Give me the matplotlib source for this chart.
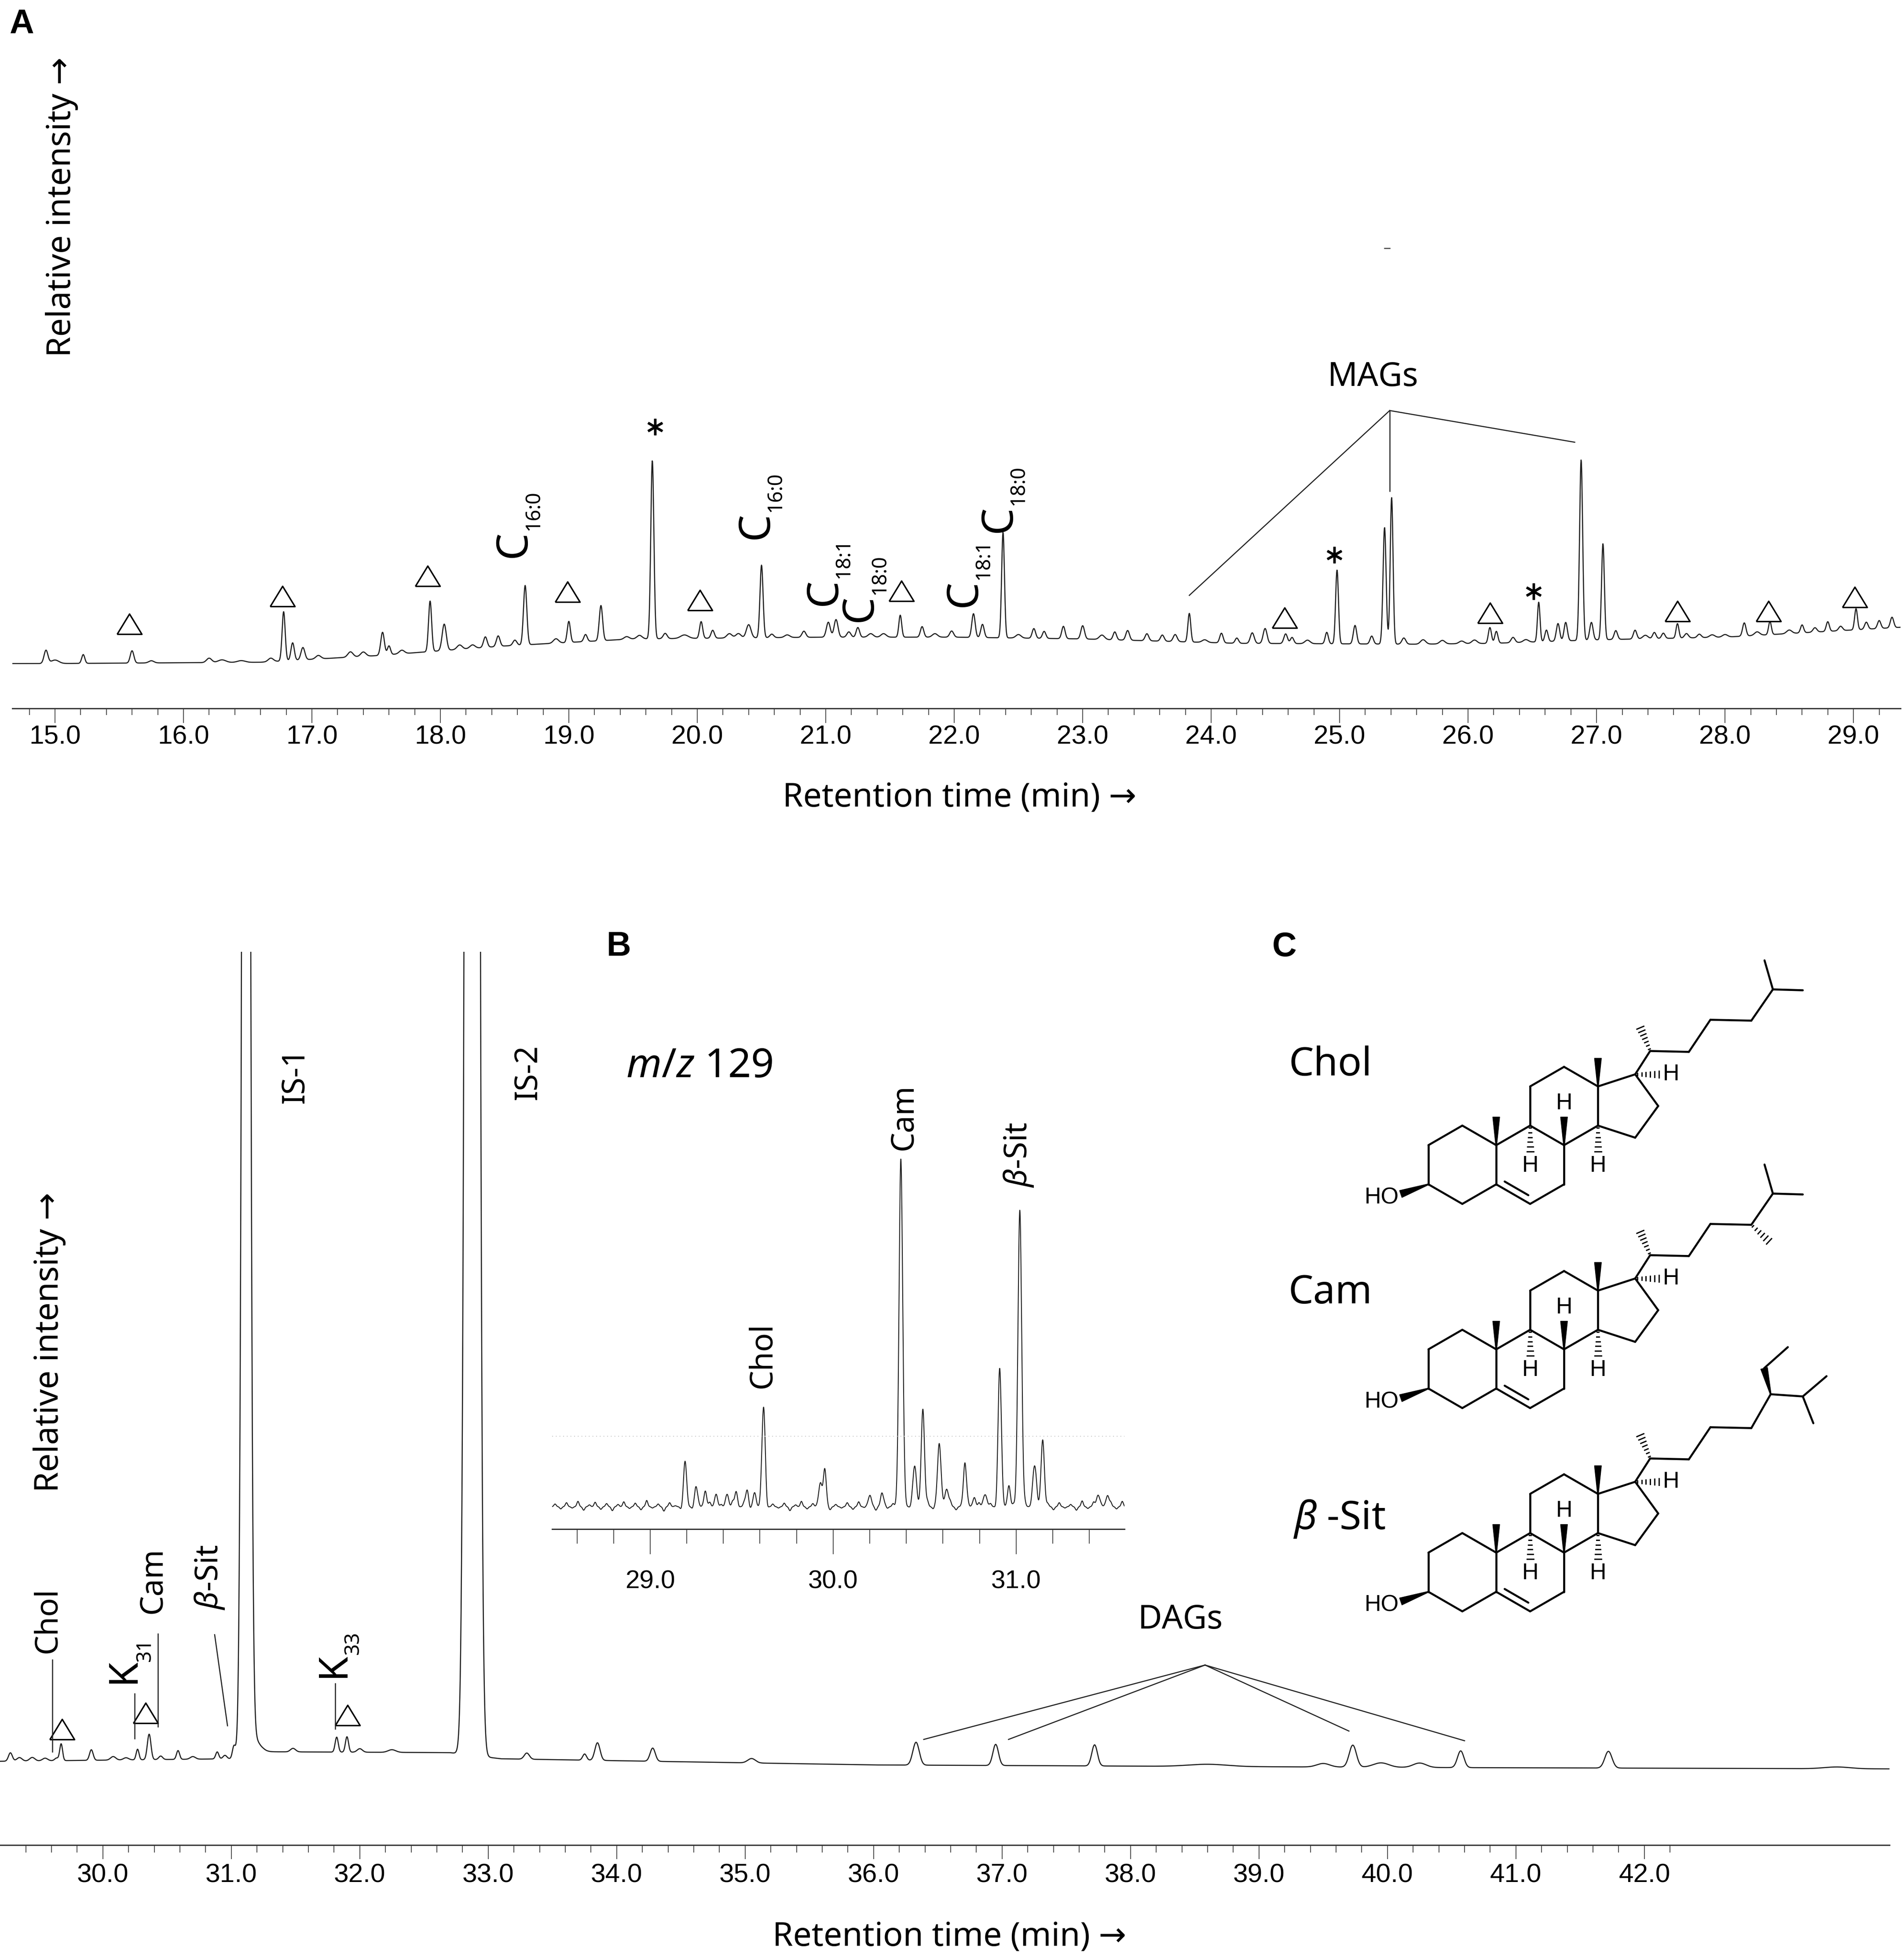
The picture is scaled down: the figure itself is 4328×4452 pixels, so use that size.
import numpy as np
import matplotlib
matplotlib.use('Agg')
import matplotlib.pyplot as plt
from matplotlib.patches import Polygon
from matplotlib.ticker import FixedLocator, FormatStrFormatter

# ---------------- DATA ----------------
# Panel A: total ion chromatogram 14.7-29.4 min (peak rt [min], height, sigma [min])
A_rt = [14.93, 15.0, 15.22, 15.6, 15.75, 16.2, 16.3, 16.45, 16.68, 16.78, 16.85, 16.93, 17.05, 17.3, 17.4,
        17.55, 17.6, 17.7, 17.92, 18.03, 18.15, 18.25, 18.35, 18.45, 18.58, 18.66, 18.9, 19.0, 19.13, 19.25,
        19.45, 19.55, 19.65, 19.75, 19.9, 20.03, 20.12, 20.25, 20.32, 20.4, 20.5, 20.58, 20.7, 20.83, 21.02,
        21.08, 21.18, 21.25, 21.35, 21.45, 21.58, 21.75, 21.85, 21.98, 22.15, 22.22, 22.38, 22.5, 22.62, 22.7,
        22.85, 23.0, 23.15, 23.25, 23.35, 23.5, 23.62, 23.72, 23.83, 23.95, 24.08, 24.2, 24.32, 24.42, 24.58,
        24.63, 24.75, 24.9, 24.98, 25.12, 25.25, 25.35, 25.405, 25.5, 25.65, 25.8, 25.95, 26.05, 26.17, 26.22,
        26.35, 26.45, 26.55, 26.61, 26.7, 26.76, 26.88, 26.96, 27.05, 27.15, 27.3, 27.38, 27.45, 27.52, 27.63,
        27.7, 27.8, 27.9, 28.0, 28.15, 28.25, 28.35, 28.5, 28.6, 28.7, 28.8, 28.9, 29.02, 29.1, 29.2, 29.3]
A_h = [30, 8, 20, 28, 5, 10, 6, 4, 8, 112, 40, 28, 8, 12, 10,
       52, 20, 8, 115, 60, 10, 8, 24, 24, 12, 135, 10, 48, 16, 80,
       6, 8, 405, 12, 8, 38, 18, 10, 10, 30, 165, 8, 6, 14, 34,
       40, 12, 22, 8, 8, 50, 24, 8, 14, 54, 30, 240, 8, 22, 16,
       28, 30, 10, 18, 22, 16, 14, 16, 65, 6, 22, 12, 24, 34, 22,
       14, 8, 26, 168, 42, 18, 265, 333, 14, 10, 8, 6, 8, 36, 27,
       12, 6, 90, 26, 40, 42, 410, 40, 218, 20, 20, 8, 14, 12, 33,
       10, 8, 6, 6, 30, 8, 30, 8, 18, 10, 22, 10, 48, 16, 18, 24]
A_s = [0.015, 0.03, 0.012, 0.014, 0.02, 0.02, 0.03, 0.03, 0.02, 0.012, 0.013, 0.015, 0.02, 0.02, 0.02,
       0.014, 0.012, 0.02, 0.012, 0.016, 0.02, 0.02, 0.014, 0.014, 0.015, 0.013, 0.02, 0.012, 0.013, 0.013,
       0.02, 0.02, 0.012, 0.015, 0.03, 0.012, 0.013, 0.02, 0.02, 0.018, 0.012, 0.015, 0.02, 0.015, 0.015,
       0.015, 0.015, 0.013, 0.02, 0.02, 0.011, 0.013, 0.02, 0.015, 0.013, 0.013, 0.011, 0.02, 0.013, 0.013,
       0.013, 0.014, 0.02, 0.013, 0.014, 0.014, 0.014, 0.015, 0.011, 0.02, 0.013, 0.013, 0.015, 0.015, 0.014,
       0.013, 0.02, 0.012, 0.011, 0.013, 0.013, 0.012, 0.011, 0.015, 0.02, 0.02, 0.02, 0.02, 0.012, 0.012,
       0.015, 0.02, 0.010, 0.012, 0.013, 0.013, 0.012, 0.013, 0.011, 0.013, 0.013, 0.02, 0.013, 0.013, 0.011,
       0.015, 0.015, 0.02, 0.02, 0.013, 0.02, 0.011, 0.02, 0.012, 0.015, 0.012, 0.015, 0.011, 0.013, 0.013, 0.013]
A_base_rt = [14.6, 15.0, 16.6, 17.5, 18.5, 19.5, 21.0, 22.0, 23.0, 24.2, 25.6, 26.2, 27.0, 28.0, 29.4]
A_base_y = [102, 102, 105, 120, 142, 158, 162, 162, 158, 148, 146, 148, 156, 162, 185]

# Lower chromatogram 29.2-43.9 min
D_rt = [29.28, 29.35, 29.45, 29.55, 29.64, 29.675, 29.91, 30.08, 30.18, 30.27, 30.36, 30.45, 30.585, 30.7,
        30.89, 30.95, 31.02, 31.115, 31.16, 31.48, 31.82, 31.90, 32.0, 32.25, 32.875, 33.3, 33.75, 33.85,
        34.28, 35.05, 36.33, 36.95, 37.72, 38.6, 39.5, 39.73, 39.95, 40.25, 40.57, 41.72, 43.5]
D_h = [19, 8, 8, 6, 6, 38, 24, 8, 5, 24, 58, 8, 20, 6,
       16, 8, 27, 6000, 40, 8, 34, 35, 8, 6, 16000, 14, 14, 40,
       30, 10, 52, 48, 48, 5, 8, 50, 10, 10, 38, 38, 4]
D_s = [0.015, 0.02, 0.02, 0.02, 0.015, 0.011, 0.014, 0.02, 0.02, 0.011, 0.014, 0.015, 0.012, 0.02,
       0.012, 0.015, 0.012, 0.0234, 0.05, 0.02, 0.012, 0.012, 0.02, 0.03, 0.031, 0.02, 0.015, 0.02,
       0.02, 0.03, 0.025, 0.022, 0.022, 0.15, 0.05, 0.028, 0.06, 0.05, 0.025, 0.028, 0.1]
D_base_rt = [29.1, 31.0, 31.25, 32.7, 33.1, 36.0, 40.5, 44.0]
D_base_y = [190, 196, 212, 210, 196, 182, 176, 173]

# Panel B: m/z 129 mass chromatogram 28.5-31.6 min
B_rt = [29.19, 29.25, 29.30, 29.36, 29.42, 29.47, 29.53, 29.57, 29.62, 29.93, 29.955, 30.2, 30.27, 30.37,
        30.445, 30.49, 30.58, 30.62, 30.72, 30.77, 30.83, 30.91, 30.96, 31.02, 31.1, 31.145, 31.45, 31.5]
B_h = [100, 45, 40, 30, 35, 35, 38, 30, 225, 55, 75, 20, 20, 791,
       90, 227, 136, 40, 99, 25, 30, 313, 50, 682, 90, 156, 30, 25]
B_s = [0.008, 0.008, 0.008, 0.008, 0.008, 0.008, 0.008, 0.008, 0.009, 0.01, 0.008, 0.01, 0.01, 0.01,
       0.01, 0.009, 0.01, 0.01, 0.008, 0.008, 0.01, 0.009, 0.008, 0.01, 0.01, 0.009, 0.01, 0.008]
B_baseline = 51
B_noise = [6, -5, 9, -3, 12, -8, 4, 10, -6, 7, -9, 5, 11, -4, 8, -7, 14, -3, 6, -10, 9, 2, -6, 13, -5, 7, -8, 10, -2, 5,
           -7, 12, -4, 9, -6, 3, 11, -8, 6, -3, 8, -9, 4, 12, -5, 7, -4, 10, -7, 5,
           -3, 9, -6, 11, -2, 6, -8, 13, -4, 7, -6, 9, -3, 5, -9, 12, -5, 8, -2, 10,
           -7, 4, 11, -6, 9, -3, 7, -8, 12, -4, 6, -10, 8, -2, 11, -5, 7, -7, 9, -3,
           5, -8, 13, -4, 10, -6, 3, 9, -5, 12]

A_major = [15.0, 16.0, 17.0, 18.0, 19.0, 20.0, 21.0, 22.0, 23.0, 24.0, 25.0, 26.0, 27.0, 28.0, 29.0]
D_major = [30.0, 31.0, 32.0, 33.0, 34.0, 35.0, 36.0, 37.0, 38.0, 39.0, 40.0, 41.0, 42.0]
B_major = [29.0, 30.0, 31.0]

# annotations (panel A)
A_tri_rt = [15.58, 16.77, 17.90, 18.99, 20.02, 21.59, 24.57, 26.17, 27.63, 28.34, 29.01]
A_tri_y = [192, 255, 301, 265, 246, 267, 206, 217, 221, 221, 253]
A_star_rt = [19.67, 24.96, 26.51]
A_star_y = [640, 349, 266]
A_fa_lab = ['16:0', '16:0', '18:1', '18:0', '18:1', '18:0']
A_fa_rt = [18.575, 20.46, 20.99, 21.27, 22.08, 22.35]
A_fa_y = [374, 416, 265, 228, 262, 431]

# ---------------- FIGURE ----------------
W, H = 4328, 4452
DPI = 300
plt.rcParams['font.family'] = ['Noto Sans', 'DejaVu Sans']
plt.rcParams['mathtext.fontset'] = 'custom'
plt.rcParams['mathtext.rm'] = 'Noto Sans'
plt.rcParams['mathtext.it'] = 'Noto Sans:italic'
plt.rcParams['mathtext.bf'] = 'Noto Sans:bold'

fig = plt.figure(figsize=(W / DPI, H / DPI), dpi=DPI)
fig.patch.set_facecolor('white')

def box(x0, ytop, x1, ybot):
    return [x0 / W, 1 - ybot / H, (x1 - x0) / W, (ybot - ytop) / H]

TRACE = dict(color='#1e1e1e', lw=0.6)
NARROW = ['Liberation Sans Narrow', 'Liberation Sans', 'DejaVu Sans']
LAB = ['Noto Sans', 'DejaVu Sans']
tri_marker = [(-1, -0.82), (1, -0.82), (0, 0.82), (-1, -0.82)]

def trace(t, rts, hs, ss):
    y = np.zeros_like(t)
    for r, h, s in zip(rts, hs, ss):
        y += h * np.exp(-0.5 * ((t - r) / s) ** 2)
    return y

def style_axis(ax, major, minor, lmaj, lmin, pad, fam, size):
    for s in ['top', 'left', 'right']:
        ax.spines[s].set_visible(False)
    ax.spines['bottom'].set_color('#333333')
    ax.spines['bottom'].set_linewidth(0.7)
    ax.set_yticks([])
    ax.xaxis.set_major_locator(FixedLocator(major))
    ax.xaxis.set_minor_locator(FixedLocator(minor))
    ax.xaxis.set_major_formatter(FormatStrFormatter('%.1f'))
    ax.tick_params(axis='x', which='major', length=lmaj, width=0.5, color='#555555',
                   pad=pad, labelsize=size, labelfontfamily=fam)
    ax.tick_params(axis='x', which='minor', length=lmin, width=0.5, color='#555555')
    ax.patch.set_alpha(0)

# overlay for panel letters and structures (pixel coordinates)
ov = fig.add_axes([0, 0, 1, 1])
ov.set_xlim(0, W)
ov.set_ylim(H, 0)
ov.axis('off')

# ---------- Panel A ----------
axA = fig.add_axes(box(28, 90, 4320, 1610))
tA = np.linspace(14.668, 29.366, 7000)
yA = np.interp(tA, A_base_rt, A_base_y) + trace(tA, A_rt, A_h, A_s)
axA.plot(tA, yA, **TRACE)
axA.set_xlim(14.668, 29.366)
axA.set_ylim(0, 1520)
style_axis(axA, A_major, np.round(np.arange(14.8, 29.3, 0.2), 1), 8, 3.6, 1.0, NARROW, 14.5)
axA.set_xlabel('Retention time (min) →', fontsize=18, family=LAB)
axA.xaxis.set_label_coords(0.5016, -0.1336)
axA.xaxis.label.set_va('center')
axA.set_ylabel('Relative intensity →', fontsize=18, family=LAB)
axA.yaxis.set_label_coords(0.0261, 0.75)
axA.yaxis.label.set_va('center')

axA.plot(A_tri_rt, A_tri_y, ls='none', marker=tri_marker, ms=13.5, mfc='white', mec='black', mew=0.8, clip_on=False)
axA.plot(A_star_rt, A_star_y, ls='none', marker=(6, 2, 0), ms=9, mec='black', mew=1.3, clip_on=False)
for lab, r, y in zip(A_fa_lab, A_fa_rt, A_fa_y):
    axA.text(r, y, 'C', rotation=90, ha='center', va='center', fontsize=23.5, family=LAB)
    axA.text(r + 0.15, y + 76, lab, rotation=90, ha='center', va='center', fontsize=11, family=LAB)
# MAGs
axA.text(25.26, 753, 'MAGs', ha='center', va='center', fontsize=18, family=LAB)
for ex, ey in [(23.83, 257), (25.39, 494), (26.83, 605)]:
    axA.plot([25.39, ex], [677, ey], color='#222222', lw=0.6, clip_on=False)
axA.plot([25.35, 25.39], [1046, 1046], color='#444444', lw=0.6)

# ---------- Lower chromatogram ----------
axD = fig.add_axes(box(0, 2163, 4295, 4193))
tD = np.linspace(29.199, 43.908, 9000)
yD = np.interp(tD, D_base_rt, D_base_y) + trace(tD, D_rt, D_h, D_s)
axD.plot(tD, yD, **TRACE)
axD.set_xlim(29.199, 43.908)
axD.set_ylim(0, 2030)
style_axis(axD, D_major, np.round(np.arange(29.4, 42.3, 0.2), 1), 7.7, 4, 2.2, NARROW, 14.5)
axD.set_xlabel('Retention time (min) →', fontsize=18, family=LAB)
axD.xaxis.set_label_coords(0.5024, -0.103)
axD.xaxis.label.set_va('center')
axD.set_ylabel('Relative intensity →', fontsize=18, family=LAB)
axD.yaxis.set_label_coords(0.0261, 0.563)
axD.yaxis.label.set_va('center')

axD.plot([29.681, 30.332, 31.904], [263, 300, 295], ls='none', marker=tri_marker, ms=13.5,
         mfc='white', mec='black', mew=0.8, clip_on=False)
LW = dict(color='#222222', lw=0.6, clip_on=False)
axD.plot([29.606, 29.606], [212, 421], **LW)
axD.plot([30.247, 30.247], [242, 344], **LW)
axD.plot([30.428, 30.428], [269, 480], **LW)
axD.plot([30.87, 30.97], [478, 271], **LW)
axD.plot([31.808, 31.808], [264, 367], **LW)
axD.text(29.572, 511, 'Chol', rotation=90, ha='center', va='center', fontsize=17, family=LAB)
axD.text(30.39, 601, 'Cam', rotation=90, ha='center', va='center', fontsize=17, family=LAB)
axD.text(30.832, 608, r'$\beta$-Sit', rotation=90, ha='center', va='center', fontsize=17, family=LAB)
axD.text(30.161, 395, 'K', rotation=90, ha='center', va='center', fontsize=22, family=LAB)
axD.text(30.329, 443, '31', rotation=90, ha='center', va='center', fontsize=11, family=LAB)
axD.text(31.795, 408, 'K', rotation=90, ha='center', va='center', fontsize=22, family=LAB)
axD.text(31.95, 459, '33', rotation=90, ha='center', va='center', fontsize=11, family=LAB)
axD.text(31.497, 1748, 'IS-1', rotation=90, ha='center', va='center', fontsize=17, family=LAB)
axD.text(33.308, 1756, 'IS-2', rotation=90, ha='center', va='center', fontsize=17, family=LAB)
axD.text(38.387, 511, 'DAGs', ha='center', va='center', fontsize=18, family=LAB)
for ex, ey in [(36.39, 240), (37.05, 240), (39.70, 259), (40.60, 237)]:
    axD.plot([38.58, ex], [409, ey], **LW)

# ---------- Panel B ----------
axB = fig.add_axes(box(1255, 2500, 2556, 3475))
tB = np.linspace(28.464, 31.592, 5000)
nB = np.linspace(28.48, 31.58, len(B_noise))
yB = B_baseline + trace(tB, B_rt, B_h, B_s) + trace(tB, nB, B_noise, [0.006] * len(B_noise))
axB.plot(tB, yB, color='#1e1e1e', lw=0.5)
axB.axhline(211, color='#cccccc', lw=0.5, ls=(0, (1, 3)))
axB.set_xlim(28.464, 31.592)
axB.set_ylim(0, 975)
style_axis(axB, B_major, np.round(np.arange(28.6, 31.7, 0.2), 1), 13.7, 7.9, 8.6,
           ['Liberation Sans', 'DejaVu Sans'], 14)
axB.text(29.615, 395, 'Chol', rotation=90, ha='center', va='center', fontsize=17, family=LAB)
axB.text(30.387, 936, 'Cam', rotation=90, ha='center', va='center', fontsize=17, family=LAB)
axB.text(31.014, 850, r'$\beta$-Sit', rotation=90, ha='center', va='center', fontsize=17, family=LAB)
axB.text(29.27, 1051, r'$\mathit{m/z}$ 129', ha='center', va='center', fontsize=22, family=LAB)

# ---------- panel letters ----------
for txt, x, y in [('A', 49, 55), ('B', 1407, 2151), ('C', 2920, 2153)]:
    ov.text(x, y, txt, ha='center', va='center', fontsize=18.5, fontweight='bold',
            family=['Liberation Sans', 'DejaVu Sans'])

# ---------- Panel C: structures ----------
BL = dict(color='black', lw=1.1, solid_capstyle='round')
HF = dict(ha='center', va='center', fontsize=12.5, family=['Liberation Sans', 'DejaVu Sans'])

def bond(a, b):
    ov.plot([a[0], b[0]], [a[1], b[1]], **BL)

def bold_wedge(a, b, wide=16):
    d = np.array(b) - np.array(a)
    n = np.array([-d[1], d[0]]) / np.hypot(*d)
    pts = [np.array(a) + n * 1.2, np.array(a) - n * 1.2, np.array(b) - n * wide / 2, np.array(b) + n * wide / 2]
    ov.add_patch(Polygon(pts, closed=True, fc='black', ec='black', lw=0.3))

def hash_wedge(a, b, n_lines=6, wide=16):
    a = np.array(a); b = np.array(b)
    d = b - a
    n = np.array([-d[1], d[0]]) / np.hypot(*d)
    for i in range(n_lines):
        f = (i + 0.5) / n_lines
        p = a + d * f
        hl = 1.5 + (wide / 2 - 1.5) * f
        ov.plot([p[0] - n[0] * hl, p[0] + n[0] * hl], [p[1] - n[1] * hl, p[1] + n[1] * hl],
                color='black', lw=0.7)

def add(p, d):
    return (p[0] + d[0], p[1] + d[1])

def draw_sterol(ox, oy, kind):
    L = 89.0
    w = L * np.sqrt(3) / 2
    P = {'C1': (ox, oy - L), 'C10': (ox + w, oy - L / 2), 'C5': (ox + w, oy + L / 2),
         'C4': (ox, oy + L), 'C3': (ox - w, oy + L / 2), 'C2': (ox - w, oy - L / 2),
         'C9': (ox + 2 * w, oy - L), 'C8': (ox + 3 * w, oy - L / 2), 'C7': (ox + 3 * w, oy + L / 2),
         'C6': (ox + 2 * w, oy + L), 'C12': (ox + 3 * w, oy - 2.5 * L), 'C13': (ox + 4 * w, oy - 2 * L),
         'C14': (ox + 4 * w, oy - L), 'C11': (ox + 2 * w, oy - 2 * L)}
    cx = ox + 4 * w + L / (2 * np.tan(np.radians(36)))
    cy = oy - 1.5 * L
    R = L / (2 * np.sin(np.radians(36)))
    P['C17'] = (cx + R * np.cos(np.radians(72)), cy - R * np.sin(np.radians(72)))
    P['C16'] = (cx + R, cy)
    P['C15'] = (cx + R * np.cos(np.radians(72)), cy + R * np.sin(np.radians(72)))
    bonds = [('C1', 'C2'), ('C2', 'C3'), ('C3', 'C4'), ('C4', 'C5'), ('C5', 'C10'), ('C10', 'C1'),
             ('C5', 'C6'), ('C6', 'C7'), ('C7', 'C8'), ('C8', 'C9'), ('C9', 'C10'),
             ('C9', 'C11'), ('C11', 'C12'), ('C12', 'C13'), ('C13', 'C14'), ('C14', 'C8'),
             ('C13', 'C17'), ('C17', 'C16'), ('C16', 'C15'), ('C15', 'C14')]
    for a, b in bonds:
        bond(P[a], P[b])
    # C5=C6 double bond (inner line)
    a = np.array(P['C5']); b = np.array(P['C6']); c = np.array((ox + 2 * w, oy))
    mid = (a + b) / 2
    nv = (c - mid) / np.hypot(*(c - mid))
    off = nv * 0.17 * L
    a2 = a + (b - a) * 0.15 + off
    b2 = a + (b - a) * 0.85 + off
    bond(a2, b2)
    # stereo
    bold_wedge(P['C10'], add(P['C10'], (0, -0.72 * L)))
    bold_wedge(P['C13'], add(P['C13'], (0, -0.72 * L)))
    bold_wedge(P['C8'], add(P['C8'], (0, -0.72 * L)))
    ov.text(*add(P['C8'], (0, -1.07 * L)), 'H', **HF)
    hash_wedge(P['C9'], add(P['C9'], (0, 0.72 * L)))
    ov.text(*add(P['C9'], (0, 1.03 * L)), 'H', **HF)
    hash_wedge(P['C14'], add(P['C14'], (0, 0.72 * L)))
    ov.text(*add(P['C14'], (0, 1.03 * L)), 'H', **HF)
    hash_wedge(P['C17'], add(P['C17'], (0.66 * L, 0)))
    ov.text(*add(P['C17'], (0.92 * L, 0)), 'H', **HF)
    bold_wedge(P['C3'], add(P['C3'], (-63, 22)), wide=17)
    ov.text(*add(P['C3'], (-106, 31)), 'HO', **HF)
    # side chain
    C20 = add(P['C17'], (34, -53))
    C21 = add(C20, (-24, -57))
    C22 = add(C20, (88, 2))
    C23 = add(C22, (49, -73))
    C24 = add(C23, (93, 2))
    bond(P['C17'], C20); bond(C20, C22); bond(C22, C23); bond(C23, C24)
    hash_wedge(C20, C21, n_lines=7, wide=18)
    if kind in ('chol', 'cam'):
        C25 = add(C24, (49, -71))
        bond(C24, C25); bond(C25, add(C25, (68, 2))); bond(C25, add(C25, (-19, -66)))
        if kind == 'cam':
            hash_wedge(C24, add(C24, (44, 41)), n_lines=6, wide=18)
    else:
        C25 = add(C24, (44, -77))
        E1 = add(C25, (-15, -59))
        bond(C24, C25)
        bold_wedge(C25, E1, wide=16)
        bond(E1, add(E1, (54, -48)))
        CX = add(C25, (73, 5))
        bond(C25, CX); bond(CX, add(CX, (54, -46))); bond(CX, add(CX, (24, 61)))

draw_sterol(3324, 2647, 'chol')
draw_sterol(3324, 3111, 'cam')
draw_sterol(3324, 3573, 'sit')
ov.text(3024, 2421, 'Chol', ha='center', va='center', fontsize=21.5, family=LAB)
ov.text(3024, 2939, 'Cam', ha='center', va='center', fontsize=21.5, family=LAB)
ov.text(3044, 3452, r'$\beta$ -Sit', ha='center', va='center', fontsize=21.5, family=LAB)

fig.savefig('out.png', dpi=DPI, facecolor='white')
